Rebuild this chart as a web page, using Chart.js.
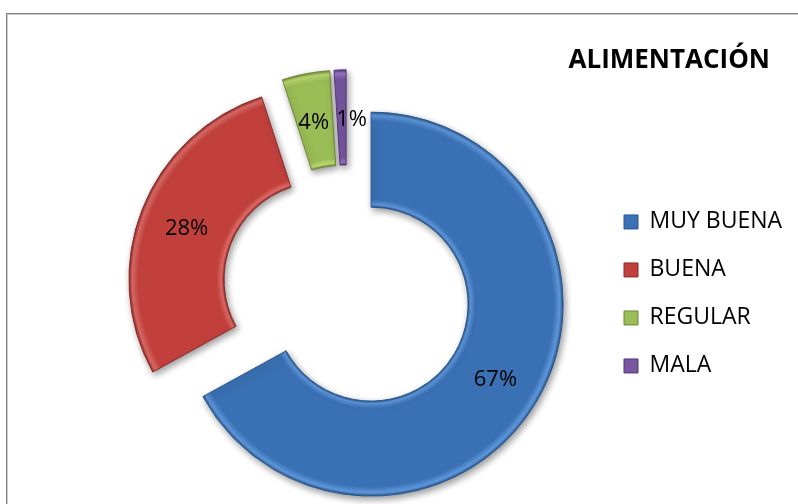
<!DOCTYPE html>
<html><head><meta charset="utf-8">
<script src="https://cdn.jsdelivr.net/npm/chart.js@4/dist/chart.umd.min.js"></script>
<style>
html,body{margin:0;padding:0;background:#fff;}
#wrap{position:relative;width:798px;height:504px;overflow:hidden;background:#fff;}
#frame{position:absolute;left:6px;top:13px;width:840px;height:540px;border-left:1px solid #7f7f7f;border-top:1px solid #7f7f7f;box-shadow:inset 1px 1px 0 #cfcfcf;}
canvas{position:absolute;left:0;top:0;}
</style></head><body>
<div id="wrap"><div id="frame"></div><canvas id="c" width="798" height="504"></canvas></div>
<script>
// ---- data ----
const categories = ['MUY BUENA', 'BUENA', 'REGULAR', 'MALA'];
const values = [67, 28, 4, 1];
const percentLabels = ['67%', '28%', '4%', '1%'];
const chartTitle = 'ALIMENTACIÓN';

// ---- style ----
const baseColors = ['#3a70b4', '#c1403c', '#9bbd55', '#7856a2'];
const lightColors = ['#5e98dc', '#de6b67', '#bcdb74', '#9879c2'];
const darkColors = ['#2a578f', '#8d2a27', '#6b8934', '#52377a'];
const OUTER_R = 192;
const CUTOUT = 0.505;
const EXPLODE = 28;          // explosion distance of every slice
const labelNudgeX = [0, 0, -1, 10];

// exploded slices: translate each arc along its bisector (same radii for all)
const origArcDraw = Chart.ArcElement.prototype.draw;
Chart.ArcElement.prototype.draw = function (ctx) {
  const half = (this.startAngle + this.endAngle) / 2;
  ctx.save();
  ctx.translate(Math.cos(half) * EXPLODE, Math.sin(half) * EXPLODE);
  origArcDraw.call(this, ctx);
  ctx.restore();
};

function sliceFill(ctx) {
  const i = ctx.dataIndex;
  const chart = ctx.chart;
  const a = chart.chartArea;
  if (i === undefined || !a) return baseColors[i || 0];
  const cx = (a.left + a.right) / 2, cy = (a.top + a.bottom) / 2;
  const ri = OUTER_R * CUTOUT;
  const g = chart.ctx.createRadialGradient(cx, cy, ri, cx, cy, OUTER_R);
  g.addColorStop(0, darkColors[i]);
  g.addColorStop(0.025, lightColors[i]);
  g.addColorStop(0.08, baseColors[i]);
  g.addColorStop(0.90, baseColors[i]);
  g.addColorStop(0.965, lightColors[i]);
  g.addColorStop(1, darkColors[i]);
  return g;
}

const effectsPlugin = {
  id: 'effects',
  afterLayout(chart) {
    // let legend texts run to the canvas edge (title stays right-aligned at the frame)
    const l = chart.legend;
    if (l) { l.right += 28; l.width += 28; }
  },
  beforeDatasetsDraw(chart) {
    const c = chart.ctx;
    c.save();
    c.shadowColor = 'rgba(0,0,0,0.4)';
    c.shadowBlur = 7;
    c.shadowOffsetX = 2;
    c.shadowOffsetY = 3;
  },
  afterDatasetsDraw(chart) {
    const c = chart.ctx;
    c.restore();
    const meta = chart.getDatasetMeta(0);
    c.save();
    c.font = '22px "Open Sans"';
    c.fillStyle = '#000';
    c.textAlign = 'center';
    c.textBaseline = 'middle';
    meta.data.forEach((arc, i) => {
      const p = arc.getProps(['x', 'y', 'startAngle', 'endAngle', 'innerRadius', 'outerRadius'], true);
      const mid = (p.startAngle + p.endAngle) / 2;
      const r = (p.innerRadius + p.outerRadius) / 2 + EXPLODE;
      c.fillText(percentLabels[i], p.x + Math.cos(mid) * r + labelNudgeX[i], p.y + Math.sin(mid) * r + 2);
    });
    c.restore();
  }
};

new Chart(document.getElementById('c'), {
  type: 'doughnut',
  data: {
    labels: categories,
    datasets: [{
      data: values,
      backgroundColor: sliceFill,
      borderColor: darkColors,
      borderWidth: 1,
      offset: 0,
      hoverOffset: 0,
      radius: OUTER_R,
      cutout: (CUTOUT * 100) + '%',
      clip: false
    }]
  },
  options: {
    responsive: false,
    animation: false,
    devicePixelRatio: 1,
    events: [],
    layout: { padding: { top: 0, left: 95, right: 28, bottom: 2.5 } },
    plugins: {
      tooltip: { enabled: false },
      title: {
        display: true,
        text: chartTitle,
        position: 'top',
        align: 'end',
        color: '#000',
        font: { family: '"Open Sans"', size: 26, weight: 'bold', lineHeight: 1.2 },
        padding: { top: 45, bottom: 2 }
      },
      legend: {
        display: true,
        position: 'right',
        fullSize: false,
        maxWidth: 171,
        align: 'center',
        title: { display: true, text: '', font: { size: 1 }, padding: { top: 7, bottom: 0 } },
        labels: {
          font: { family: '"Open Sans"', size: 23 },
          color: '#000',
          boxWidth: 14,
          boxHeight: 14,
          padding: 25,
          generateLabels: (chart) => categories.map((t, i) => ({
            text: t,
            fillStyle: baseColors[i],
            strokeStyle: darkColors[i],
            lineWidth: 1,
            hidden: false,
            index: i,
            fontColor: '#000'
          }))
        }
      }
    }
  },
  plugins: [effectsPlugin]
});
</script>
</body></html>
